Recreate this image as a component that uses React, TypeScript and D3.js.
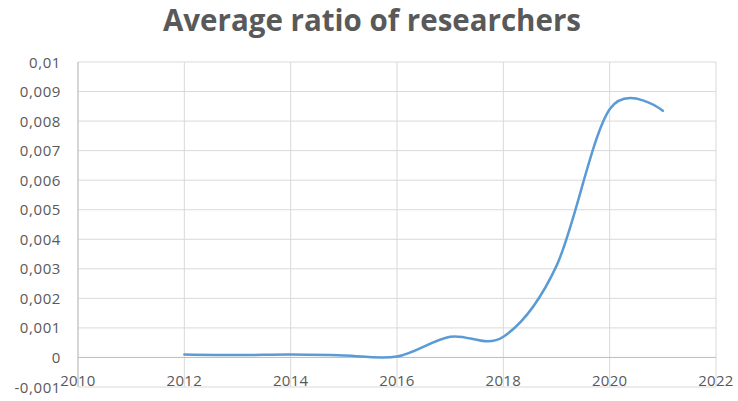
import React from "react";
import * as d3 from "d3";

const years = [2012, 2013, 2014, 2015, 2016, 2017, 2018, 2019, 2020, 2021];
const ratios = [0.0001, 0.00008, 0.0001, 0.00007, 0.00003, 0.0007, 0.0007, 0.0031, 0.0084, 0.00835];
const xTicks = [2010, 2012, 2014, 2016, 2018, 2020, 2022];
const yTicks = [-0.001, 0, 0.001, 0.002, 0.003, 0.004, 0.005, 0.006, 0.007, 0.008, 0.009, 0.01];
const yLabels = ["-0,001", "0", "0,001", "0,002", "0,003", "0,004", "0,005", "0,006", "0,007", "0,008", "0,009", "0,01"];

const W = 738;
const H = 401;
const plot = { left: 78, right: 716, top: 62, bottom: 387 };

export default function App() {
  const x = d3.scaleLinear().domain([2010, 2022]).range([plot.left, plot.right]);
  const y = d3.scaleLinear().domain([-0.001, 0.01]).range([plot.bottom, plot.top]);
  const line = d3
    .line<number>()
    .x((_, i) => x(years[i]))
    .y((d) => y(d))
    .curve(d3.curveCardinal.tension(0));
  const gray = "#595959";
  const grid = "#d9d9d9";
  const font = "'Open Sans', Arial, sans-serif";

  return (
    <svg
      width={W}
      height={H}
      style={{ position: "absolute", left: 0, top: 0, background: "#fff" }}
      fontFamily={font}
    >
      <rect width={W} height={H} fill="#fff" />
      <text
        x={372}
        y={31}
        textAnchor="middle"
        fontSize={29.5}
        fontWeight="bold"
        fill={gray}
      >
        Average ratio of researchers
      </text>
      {yTicks.map((t) => (
        <line key={"h" + t} x1={plot.left} x2={plot.right} y1={y(t)} y2={y(t)} stroke={grid} strokeWidth={1} />
      ))}
      {xTicks.map((t) => (
        <line key={"v" + t} x1={x(t)} x2={x(t)} y1={plot.top} y2={plot.bottom} stroke={grid} strokeWidth={1} />
      ))}
      <line x1={plot.left} x2={plot.right} y1={y(0)} y2={y(0)} stroke="#bfbfbf" strokeWidth={1} />
      <line x1={plot.left} x2={plot.left} y1={plot.top} y2={plot.bottom} stroke="#bfbfbf" strokeWidth={1} />
      {yTicks.map((t, i) => (
        <text key={"yl" + t} x={61} y={y(t) + 5.5} textAnchor="end" fontSize={15} letterSpacing={0.6} fill={gray}>
          {yLabels[i]}
        </text>
      ))}
      {xTicks.map((t) => (
        <text key={"xl" + t} x={x(t)} y={386} textAnchor="middle" fontSize={15} letterSpacing={0.3} fill={gray}>
          {t}
        </text>
      ))}
      <path d={line(ratios) ?? ""} fill="none" stroke="#5b9bd5" strokeWidth={2.5} strokeLinecap="round" />
    </svg>
  );
}
